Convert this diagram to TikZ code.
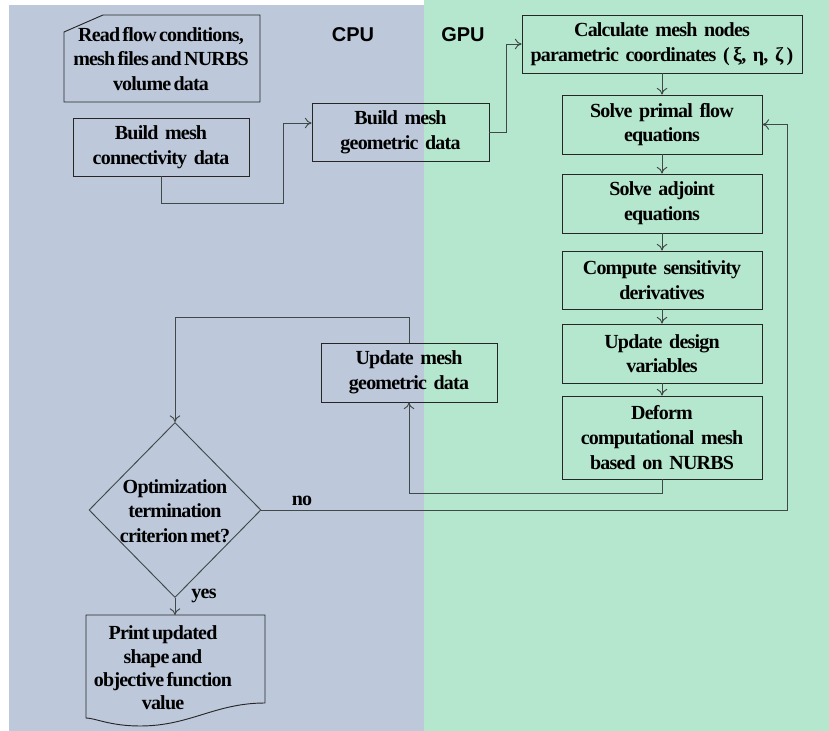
\documentclass[tikz,border=0pt]{standalone}
\usepackage{fontspec}
\setmainfont{Liberation Serif}[LetterSpace=-4.0, WordSpace=0.55]
\setsansfont{Liberation Sans}
\usetikzlibrary{arrows.meta,shapes.geometric}
\definecolor{cpubg}{HTML}{BDC9DB}
\definecolor{gpubg}{HTML}{B5E7CF}
\definecolor{linec}{HTML}{404848}
\tikzset{
  txt/.style={font=\bfseries\fontsize{15}{18.5}\selectfont, align=center, inner sep=0pt},
  box/.style={txt, draw=black!85, line width=0.7pt, rectangle},
  conn/.style={draw=linec, line width=0.7pt},
  arr/.style={conn, -{To[length=5pt,width=8pt]}},
  lbl/.style={font=\sffamily\bfseries\fontsize{15}{16}\selectfont, inner sep=0pt},
}
\begin{document}
\begin{tikzpicture}[x=0.75pt,y=-0.75pt]
\useasboundingbox (0,0) rectangle (829,731);
\fill[cpubg] (9,5) rectangle (424,731);
\fill[gpubg] (424,0) rectangle (829,731);

\node[lbl] (cpu) at (353,35) {CPU};
\node[lbl] (gpu) at (463,35) {GPU};

% card shape
\draw[draw=black!85, line width=0.7pt] (64,32) -- (103,15) -- (260,15) -- (260,102) -- (64,102) -- cycle;
\node[txt] (read) at (161,59) {Read flow conditions,\\mesh files and NURBS\\volume data};

\node[box, text width=174*0.75pt, minimum width=176*0.75pt, minimum height=58*0.75pt] (conn) at (161,147) {Build mesh\\connectivity data};
\node[box, text width=174*0.75pt, minimum width=177*0.75pt, minimum height=58*0.75pt] (geo) at (400.5,132) {Build mesh\\geometric data};
\node[box, text width=278*0.75pt, minimum width=280*0.75pt, minimum height=58*0.75pt] (calc) at (662,44) {Calculate mesh nodes\\parametric coordinates (\,ξ, η, ζ\,)};
\node[box, text width=198*0.75pt, minimum width=200*0.75pt, minimum height=59*0.75pt] (primal) at (662,124.5) {Solve primal flow\\equations};
\node[box, text width=198*0.75pt, minimum width=200*0.75pt, minimum height=59*0.75pt] (adj) at (662,203.5) {Solve adjoint\\equations};
\node[box, text width=198*0.75pt, minimum width=200*0.75pt, minimum height=58*0.75pt] (sens) at (662,280) {Compute sensitivity\\derivatives};
\node[box, text width=198*0.75pt, minimum width=200*0.75pt, minimum height=59*0.75pt] (design) at (662,353.5) {Update design\\variables};
\node[box, text width=198*0.75pt, minimum width=200*0.75pt, minimum height=83*0.75pt] (deform) at (662,437.5) {Deform\\computational mesh\\based on NURBS};
\node[box, text width=174*0.75pt, minimum width=176*0.75pt, minimum height=59*0.75pt] (upd) at (409,372.5) {Update mesh\\geometric data};

\node[diamond, draw=linec, line width=0.7pt, minimum width=172*0.75pt, minimum height=175*0.75pt, inner sep=0pt] (dia) at (175,510) {};
\node[txt] (diatext) at (175,511) {Optimization\\termination\\criterion met?};

% document shape
\draw[draw=black!85, line width=0.7pt] (86,615) -- (265,615) -- (265,703)
  .. controls (215,703) and (190,726) .. (140,726)
  .. controls (110,726) and (95,718) .. (86,718) -- cycle;
\node[txt, font=\bfseries\fontsize{15}{17.5}\selectfont] (print) at (163,668) {Print updated\\shape and\\objective function\\value};
\coordinate (printtop) at (175,615);

\node[txt] (no) at (302,501) {no};
\node[txt] (yes) at (204,596) {yes};

% connectors
\coordinate (g1) at (283,123);
\draw[arr] (conn.south) -- (161,203) -| (g1) -- (g1 -| geo.west);
\draw[arr] (geo.east) -- (506,132) |- (calc.west);
\draw[arr] (calc.south) -- (primal.north);
\draw[arr] (primal.south) -- (adj.north);
\draw[arr] (adj.south) -- (sens.north);
\draw[arr] (sens.south) -- (design.north);
\draw[arr] (design.south) -- (deform.north);
\draw[arr] (deform.south) -- (662,493) -| (upd.south);
\draw[arr] (upd.north) -- (409,317) -| (dia.north);
\draw[arr] (dia.east) -- (787,510) |- (primal.east);
\draw[arr] (dia.south) -- (printtop);
\end{tikzpicture}
\end{document}
